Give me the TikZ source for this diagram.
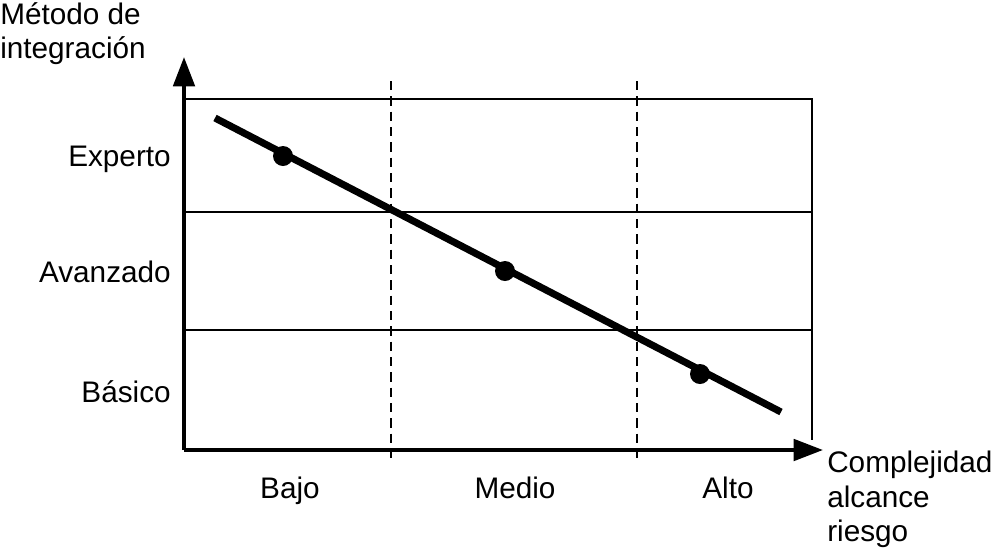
\documentclass[tikz,border=0pt]{standalone}
\usepackage{fontspec}
\setmainfont{Liberation Sans}
\usetikzlibrary{arrows.meta}
\begin{document}
\begin{tikzpicture}[x=0.75pt,y=-0.75pt,
  lbl/.style={font=\fontsize{22.3}{27}\selectfont, inner sep=0pt},
  axis/.style={line width=3pt, -{Triangle[length=22pt,width=16pt]}},
  grid/.style={line width=1.1pt},
  dashline/.style={line width=1.1pt, dash pattern=on 7pt off 4.5pt},
  trend/.style={line width=5.3pt},
  dot/.style={circle, fill=black, minimum size=15pt, inner sep=0pt}]
\useasboundingbox (0,0) rectangle (993,551);
% coordinates
\coordinate (O) at (184,450);
\coordinate (ytip) at (184,57);
\coordinate (xtip) at (823,450);
\coordinate (tl) at (184,99);
\coordinate (tr) at (812,99);
\coordinate (br) at (812,440);
\coordinate (h1l) at (184,212);
\coordinate (h1r) at (812,212);
\coordinate (h2l) at (184,330);
\coordinate (h2r) at (812,330);
\coordinate (d1t) at (391,81);
\coordinate (d1b) at (391,464);
\coordinate (d2t) at (637,81);
\coordinate (d2b) at (637,464);
\coordinate (ls) at (215,118);
\coordinate (le) at (781,412);
% grid
\draw[grid] (tl) -- (tr) -- (br);
\draw[grid] (h1l) -- (h1r);
\draw[grid] (h2l) -- (h2r);
\draw[dashline] (d1t) -- (d1b);
\draw[dashline] (d2t) -- (d2b);
% axes
\draw[axis] (O) -- (ytip);
\draw[axis] (O) -- (xtip);
% trend line
\draw[trend] (ls) -- (le);
\node[dot] (p1) at (283,156) {};
\node[dot] (p2) at (505,271) {};
\node[dot] (p3) at (700,374) {};
% labels
\node[lbl, anchor=base west] (yl1) at (0,24) {Método de};
\node[lbl, anchor=base west] (yl2) at (0,58) {integración};
\node[lbl, anchor=base east] (e) at (171,166) {Experto};
\node[lbl, anchor=base east] (a) at (171,282) {Avanzado};
\node[lbl, anchor=base east] (b) at (171,402) {Básico};
\node[lbl, anchor=base] (bj) at (290,498) {Bajo};
\node[lbl, anchor=base] (md) at (515,498) {Medio};
\node[lbl, anchor=base] (al) at (728,498) {Alto};
\node[lbl, anchor=base west] (x1) at (827,472) {Complejidad};
\node[lbl, anchor=base west] (x2) at (827,507) {alcance};
\node[lbl, anchor=base west] (x3) at (827,541) {riesgo};
\end{tikzpicture}
\end{document}
